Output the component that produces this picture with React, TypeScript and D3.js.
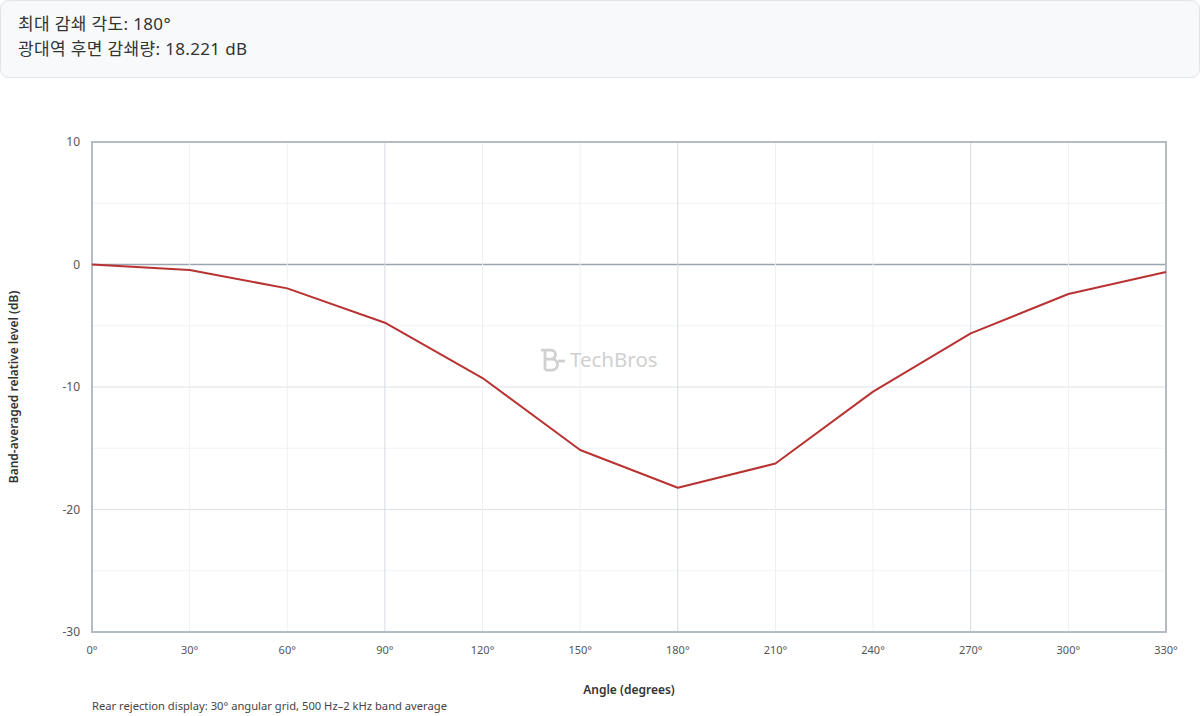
import { FC, useEffect } from 'react';
import * as d3 from 'd3';

// band-averaged rear rejection, 500 Hz–2 kHz
const angles = [0, 30, 60, 90, 120, 150, 180, 210, 240, 270, 300, 330];
const levels = [0, -0.45, -1.95, -4.75, -9.27, -15.14, -18.221, -16.25, -10.38, -5.62, -2.41, -0.62];
const yTicks = [10, 0, -10, -20, -30];
const yMinorTicks = [5, -5, -15, -25];
const summaryLines = ['최대 감쇄 각도: 180°', '광대역 후면 감쇄량: 18.221 dB'];
const footnote = 'Rear rejection display: 30° angular grid, 500 Hz–2 kHz band average';

const FONT = '"Segoe UI", "Noto Sans", "Noto Sans CJK KR", sans-serif';

const App: FC = () => {
  useEffect(() => {
    document.body.style.margin = '0';
  }, []);

  const W = 1200;
  const H = 716;
  const margin = { top: 142, right: 34, bottom: 84, left: 92 };
  const innerW = W - margin.left - margin.right;
  const innerH = H - margin.top - margin.bottom;

  const x = d3.scaleLinear().domain([0, 330]).range([0, innerW]);
  const y = d3.scaleLinear().domain([-30, 10]).range([innerH, 0]);

  const line = d3
    .line<number>()
    .x((_, i) => x(angles[i]))
    .y(d => y(d));

  const data = levels;

  return (
    <svg width={W} height={H} style={{ display: 'block', fontFamily: FONT }}>
      {/* summary box */}
      <rect x={0.5} y={0.5} width={W - 1} height={77} rx={8} fill="#f8f9fb" stroke="#e1e4e8" />
      {summaryLines.map((t, i) => (
        <text key={t} x={18} y={30 + i * 25} fontSize={17} letterSpacing={0.35} fill="#333">
          {t}
        </text>
      ))}

      <g transform={`translate(${margin.left},${margin.top})`}>
        {/* minor horizontal grid */}
        {yMinorTicks.map(t => (
          <line key={'m' + t} x1={0} x2={innerW} y1={y(t)} y2={y(t)} stroke="#f0f2f5" />
        ))}
        {/* major horizontal grid */}
        {yTicks.map(t => (
          <line
            key={'h' + t}
            x1={0}
            x2={innerW}
            y1={y(t)}
            y2={y(t)}
            stroke={t === 0 ? '#9aa5b1' : '#dde1e6'}
            strokeWidth={t === 0 ? 1.5 : 1}
          />
        ))}
        {/* vertical grid */}
        {angles.map(a => (
          <line
            key={'v' + a}
            x1={x(a)}
            x2={x(a)}
            y1={0}
            y2={innerH}
            stroke={a % 90 === 0 ? '#d6dbe1' : '#edf0f3'}
          />
        ))}

        {/* watermark */}
        <g transform={`translate(${innerW / 2 - 88},${y(-7.8)})`} fill="none" stroke="#d0d0d0" strokeWidth={2.8}>
          <path d="M0,-10 H10 a4.5,4.5 0 0 1 0,9 H4 M4,-10 V10 M4,-1 H11 a5.5,5.5 0 0 1 0,11 H4" />
          <line x1={17} x2={24} y1={1} y2={1} />
          <text x={29} y={7} fill="#d0d0d0" stroke="none" fontSize={20.5} fontFamily={FONT}>
            TechBros
          </text>
        </g>

        {/* plot frame */}
        <rect x={0} y={0} width={innerW} height={innerH} fill="none" stroke="#b3bbc5" strokeWidth={2} />

        {/* series */}
        <path d={line(data) ?? ''} fill="none" stroke="#b93232" strokeWidth={2} strokeLinejoin="round" />

        {/* y ticks */}
        {yTicks.map(t => (
          <text key={'yt' + t} x={-12} y={y(t)} dy="0.35em" textAnchor="end" fontSize={12} fill="#555">
            {t}
          </text>
        ))}
        {/* x ticks */}
        {angles.map(a => (
          <text key={'xt' + a} x={x(a)} y={innerH + 22} textAnchor="middle" fontSize={11} fill="#555">
            {a}°
          </text>
        ))}

        <text x={innerW / 2} y={innerH + 62} textAnchor="middle" fontSize={12} fontWeight={600} fill="#333">
          Angle (degrees)
        </text>
        <text
          transform={`translate(${-74},${innerH / 2}) rotate(-90)`}
          textAnchor="middle"
          fontSize={12}
          fontWeight={600}
          fill="#333"
        >
          Band-averaged relative level (dB)
        </text>
      </g>

      <text x={margin.left} y={710} fontSize={11.2} fill="#444">
        {footnote}
      </text>
    </svg>
  );
};

export default App;
